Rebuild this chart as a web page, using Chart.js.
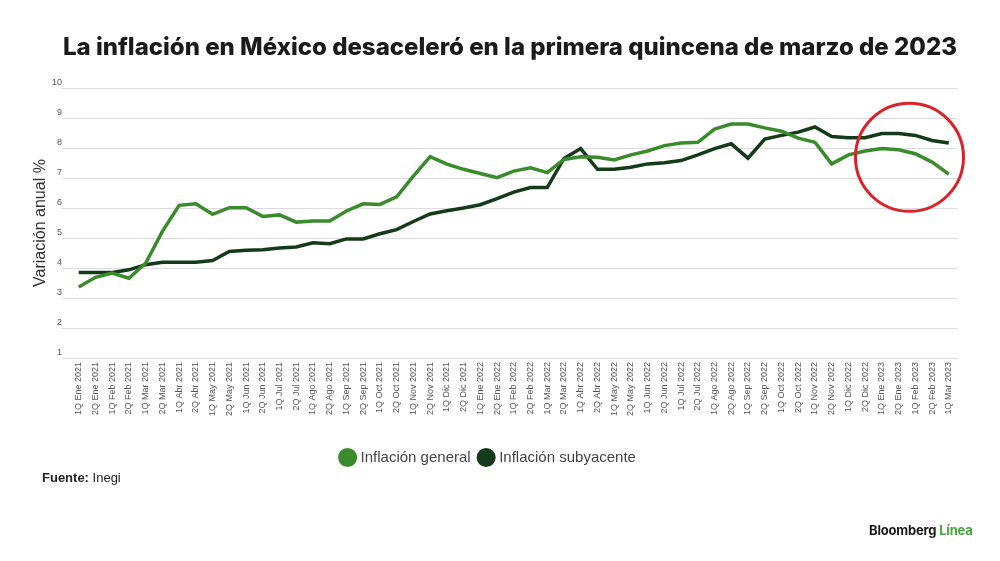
<!DOCTYPE html>
<html>
<head>
<meta charset="utf-8">
<script src="https://cdn.jsdelivr.net/npm/chart.js@4.4.1/dist/chart.umd.min.js"></script>
<style>
  html, body { margin: 0; padding: 0; background: #fff; }
  #wrap { position: relative; width: 1000px; height: 561px; }
  #title { position: absolute; left: 0; width: 1020px; top: 32px; text-align: center; font: 800 24px "Inter", sans-serif; color: #1a1a1a; line-height: 30px; white-space: nowrap; }
  #source { position: absolute; left: 42px; top: 470px; font: 13px "Liberation Sans", Arial, sans-serif; color: #222; }
  #source b { font-weight: bold; }
  #brand { position: absolute; left: 869px; top: 522px; font: bold 13px "Inter", "Liberation Sans", sans-serif; color: #1a1a1a; letter-spacing: -0.2px; }
  #brand span { color: #46a63f; }
</style>
</head>
<body>
<div id="wrap">
  <canvas id="myChart" width="1000" height="561"></canvas>
  <div id="title">La inflación en México desaceleró en la primera quincena de marzo de 2023</div>
  <div id="source"><b>Fuente:</b> Inegi</div>
  <div id="brand">Bloomberg <span>Línea</span></div>
</div>
<script>
// quincenas (tick labels)
const labels = [
  '1Q Ene 2021', '2Q Ene 2021', '1Q Feb 2021', '2Q Feb 2021', '1Q Mar 2021', '2Q Mar 2021',
  '1Q Abr 2021', '2Q Abr 2021', '1Q May 2021', '2Q May 2021', '1Q Jun 2021', '2Q Jun 2021',
  '1Q Jul 2021', '2Q Jul 2021', '1Q Ago 2021', '2Q Ago 2021', '1Q Sep 2021', '2Q Sep 2021',
  '1Q Oct 2021', '2Q Oct 2021', '1Q Nov 2021', '2Q Nov 2021', '1Q Dic 2021', '2Q Dic 2021',
  '1Q Ene 2022', '2Q Ene 2022', '1Q Feb 2022', '2Q Feb 2022', '1Q Mar 2022', '2Q Mar 2022',
  '1Q Abr 2022', '2Q Abr 2022', '1Q May 2022', '2Q May 2022', '1Q Jun 2022', '2Q Jun 2022',
  '1Q Jul 2022', '2Q Jul 2022', '1Q Ago 2022', '2Q Ago 2022', '1Q Sep 2022', '2Q Sep 2022',
  '1Q Oct 2022', '2Q Oct 2022', '1Q Nov 2022', '2Q Nov 2022', '1Q Dic 2022', '2Q Dic 2022',
  '1Q Ene 2023', '2Q Ene 2023', '1Q Feb 2023', '2Q Feb 2023', '1Q Mar 2023'
];

// Inflación general, % anual
const general = [
  3.37, 3.69, 3.83, 3.66, 4.16, 5.22, 6.09, 6.14, 5.79, 6.01, 6.01, 5.72,
  5.77, 5.53, 5.57, 5.57, 5.90, 6.14, 6.12, 6.37, 7.06, 7.71, 7.46, 7.29,
  7.15, 7.01, 7.23, 7.34, 7.18, 7.62, 7.71, 7.69, 7.60, 7.77, 7.90, 8.08,
  8.17, 8.19, 8.63, 8.80, 8.80, 8.67, 8.56, 8.33, 8.19, 7.47, 7.77, 7.90,
  7.98, 7.94, 7.81, 7.53, 7.13
];

// Inflación subyacente, % anual
const core = [
  3.85, 3.85, 3.85, 3.94, 4.11, 4.19, 4.19, 4.19, 4.25, 4.55, 4.59, 4.61,
  4.67, 4.70, 4.84, 4.81, 4.97, 4.97, 5.14, 5.28, 5.55, 5.80, 5.91, 6.00,
  6.11, 6.31, 6.53, 6.68, 6.68, 7.65, 7.98, 7.29, 7.29, 7.36, 7.47, 7.51,
  7.58, 7.77, 7.98, 8.14, 7.66, 8.30, 8.42, 8.53, 8.70, 8.38, 8.34, 8.34,
  8.48, 8.48, 8.42, 8.25, 8.17
];

const yTicks = [1, 2, 3, 4, 5, 6, 7, 8, 9, 10];

const toPoints = arr => arr.map((v, i) => ({ x: i, y: v }));

// red circle marking the last quincenas (center in data units, radius in px)
const highlightCircle = {
  id: 'highlightCircle',
  afterDatasetsDraw(chart) {
    const { ctx, scales } = chart;
    const cx = scales.x.getPixelForValue(49.65);
    const cy = scales.y.getPixelForValue(7.69);
    ctx.save();
    ctx.beginPath();
    ctx.arc(cx, cy, 54, 0, Math.PI * 2);
    ctx.lineWidth = 3;
    ctx.strokeStyle = '#d9232b';
    ctx.stroke();
    ctx.restore();
  }
};

const config = {
  type: 'line',
  data: {
    datasets: [{
      label: 'Inflación general',
      data: toPoints(general),
      borderColor: '#3a8b2c',
      backgroundColor: '#3a8b2c',
      borderWidth: 3.5,
      pointRadius: 0,
      tension: 0
    }, {
      label: 'Inflación subyacente',
      data: toPoints(core),
      borderColor: '#143a19',
      backgroundColor: '#143a19',
      borderWidth: 3.5,
      pointRadius: 0,
      tension: 0
    }]
  },
  options: {
    responsive: false,
    animation: false,
    layout: { padding: { left: 20, right: 42, top: 88, bottom: 86 } },
    plugins: {
      legend: {
        position: 'bottom',
        labels: {
          usePointStyle: true,
          pointStyle: 'circle',
          boxWidth: 11,
          boxHeight: 11,
          padding: 10,
          color: '#444',
          font: { family: 'Liberation Sans', size: 15 }
        }
      },
      tooltip: { enabled: false }
    },
    scales: {
      x: {
        type: 'linear',
        min: -1,
        max: 52.55,
        grid: { display: false, drawTicks: false },
        border: { display: false },
        afterFit: scale => { scale.height = 82; },
        afterBuildTicks: scale => { scale.ticks = labels.map((_, i) => ({ value: i })); },
        ticks: {
          autoSkip: false,
          minRotation: 90,
          maxRotation: 90,
          padding: 4,
          color: '#555',
          font: { family: 'Liberation Sans', size: 9 },
          callback: v => labels[v] || ''
        }
      },
      y: {
        min: yTicks[0],
        max: yTicks[yTicks.length - 1],
        afterFit: scale => { scale.width = 42; },
        grid: { color: '#dcdcdc', drawTicks: false },
        border: { display: false },
        title: {
          display: true,
          text: 'Variación anual %',
          color: '#333',
          font: { family: 'Liberation Sans', size: 16 },
          padding: { top: 11, bottom: 0 }
        },
        ticks: {
          stepSize: 1,
          padding: 0,
          labelOffset: -5,
          color: '#555',
          font: { family: 'Liberation Sans', size: 9 }
        }
      }
    }
  },
  plugins: [highlightCircle]
};

const myChart = new Chart('myChart', config);
</script>
</body>
</html>
